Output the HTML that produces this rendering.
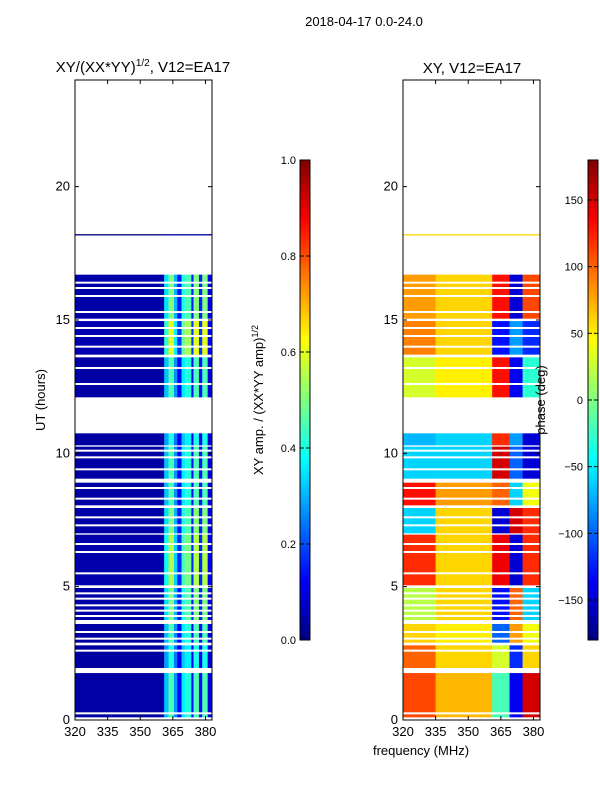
<!DOCTYPE html>
<html><head><meta charset="utf-8"><style>
body{margin:0;background:#fff;font-family:"Liberation Sans",sans-serif}
text{font-family:"Liberation Sans",sans-serif;fill:#000}
</style></head><body>
<svg id="fig" width="600" height="800" xmlns="http://www.w3.org/2000/svg">
<defs>
<linearGradient id="jet" x1="0" y1="1" x2="0" y2="0">
<stop offset="0" stop-color="#00007f"/><stop offset="0.125" stop-color="#0000ff"/>
<stop offset="0.375" stop-color="#00ffff"/><stop offset="0.625" stop-color="#ffff00"/>
<stop offset="0.875" stop-color="#ff0000"/><stop offset="1" stop-color="#7f0000"/>
</linearGradient>
</defs>
<text x="364" y="26" font-size="13" text-anchor="middle">2018-04-17 0.0-24.0</text>
<text x="143" y="72" font-size="15" text-anchor="middle">XY/(XX*YY)<tspan font-size="10" dy="-6">1/2</tspan><tspan dy="6">, V12=EA17</tspan></text>
<text x="472" y="73" font-size="15" text-anchor="middle">XY, V12=EA17</text>
<g id="left"></g>
<g id="right"></g>
<text x="45" y="400" font-size="13" text-anchor="middle" transform="rotate(-90 45 400)">UT (hours)</text>
<text x="421" y="755" font-size="13" text-anchor="middle">frequency (MHz)</text>
<rect x="300" y="160" width="10" height="480" fill="url(#jet)" stroke="#000" stroke-width="1"/>
<rect x="588" y="160" width="10" height="480" fill="url(#jet)" stroke="#000" stroke-width="1"/>
<text x="263" y="400" font-size="13" text-anchor="middle" transform="rotate(-90 263 400)">XY amp. / (XX*YY amp)<tspan font-size="9" dy="-5">1/2</tspan></text>
<text x="545" y="400" font-size="13" text-anchor="middle" transform="rotate(-90 545 400)">phase (deg)</text>
<g id="cb"></g>
</svg>
<script>
const bandStart=[0.1,1.95,2.9,3.75,5.05,7.0,8.05,9.05,10.3,12.1,13.7,15.05,18.17];
const bandEnd=[1.76,2.8,3.6,4.95,6.95,7.95,8.9,10.25,10.75,13.6,14.96,16.7,18.22];
const bandAmpScale=[0.9,0.8,0.9,1.0,1.1,1.0,0.9,0.9,0.8,0.9,1.2,1.0,0.1];
const freqEdges=[320,361,363,365.5,367,369,370.5,373.5,374.5,377,378.5,381,383];
const ampProf=[0.04,0.35,0.5,0.3,0.15,0.4,0.45,0.15,0.5,0.15,0.5,0.1];
const phaseEdges=[320,335,361,369,375,383];
const bandPhase=[[110,70,-20,-140,150],[100,60,30,-120,60],[60,50,-100,80,40],[20,60,-130,100,-60],[120,60,140,-150,120],[-60,60,-150,150,120],[130,80,100,-60,40],[-60,-60,150,-100,-150],[-70,-60,120,-80,-150],[30,50,130,-140,-30],[90,60,-130,-80,-120],[80,60,130,-150,110],[60,60,60,60,60]];
const gaps=[0.25,2.6,3.05,3.3,3.9,4.1,4.3,4.55,4.75,5.5,6.3,6.6,7.3,7.6,8.3,8.7,9.4,9.85,10.1,12.6,13.2,14.0,14.4,14.7,15.3,15.9,16.2,16.4];
const hourTicks=[0,5,10,15,20];
const freqTicks=[320,335,350,365,380];
const ampTicks=[0,0.2,0.4,0.6,0.8,1.0];
const phaseTicks=[-150,-100,-50,0,50,100,150];

const NS="http://www.w3.org/2000/svg";
function mk(p,t,a){const e=document.createElementNS(NS,t);for(const k in a)e.setAttribute(k,a[k]);p.appendChild(e);return e;}
const Y0=720,Y1=80;
const yS=h=>Y0-(Y0-Y1)*h/24;
function jet(v){v=Math.max(0,Math.min(1,v));
 const st=[[0,0,0,127],[0.125,0,0,255],[0.375,0,255,255],[0.625,255,255,0],[0.875,255,0,0],[1,127,0,0]];
 for(let i=1;i<st.length;i++)if(v<=st[i][0]){const a=st[i-1],b=st[i],t=(v-a[0])/(b[0]-a[0]);
  return `rgb(${Math.round(a[1]+t*(b[1]-a[1]))},${Math.round(a[2]+t*(b[2]-a[2]))},${Math.round(a[3]+t*(b[3]-a[3]))})`;}
 return 'rgb(127,0,0)';}
function panel(g,X0,X1,isPhase){
 const xS=f=>X0+(X1-X0)*(f-320)/63;
 for(let b=0;b<bandStart.length;b++){
  const yt=yS(bandEnd[b]),yb=yS(bandStart[b]);
  if(!isPhase){for(let c=0;c<ampProf.length;c++){
    const r=mk(g,'rect',{x:xS(freqEdges[c]),y:yt,width:xS(freqEdges[c+1])-xS(freqEdges[c])+0.3,height:yb-yt,fill:jet(ampProf[c]*bandAmpScale[b])});
    }}
  else{for(let c=0;c<bandPhase[b].length;c++){
    const r=mk(g,'rect',{x:xS(phaseEdges[c]),y:yt,width:xS(phaseEdges[c+1])-xS(phaseEdges[c])+0.3,height:yb-yt,fill:jet((bandPhase[b][c]+180)/360)});
    }}
 }
 for(const h of gaps){const r=mk(g,'rect',{x:X0,y:yS(h)-1,width:X1-X0,height:2,fill:'#fff'});
  }
 mk(g,'rect',{x:X0,y:Y1,width:X1-X0,height:Y0-Y1,fill:'none',stroke:'#000','stroke-width':1});
 for(const h of hourTicks){const y=yS(h);
  mk(g,'line',{x1:X0,x2:X0+4,y1:y,y2:y,stroke:'#000'});mk(g,'line',{x1:X1,x2:X1-4,y1:y,y2:y,stroke:'#000'});
  const t=mk(g,'text',{x:X0-5,y:y+4,'font-size':13,'text-anchor':'end'});t.textContent=h;
  }
 for(const f of freqTicks){const x=xS(f);
  mk(g,'line',{x1:x,x2:x,y1:Y0,y2:Y0-4,stroke:'#000'});mk(g,'line',{x1:x,x2:x,y1:Y1,y2:Y1+4,stroke:'#000'});
  const t=mk(g,'text',{x:x,y:Y0+16,'font-size':13,'text-anchor':'middle'});t.textContent=f;
  }
}
panel(document.getElementById('left'),75,212,false);
panel(document.getElementById('right'),403,540,true);
const cb=document.getElementById('cb');
for(const v of ampTicks){const y=640-480*v;
 mk(cb,'line',{x1:300,x2:304,y1:y,y2:y,stroke:'#000'});mk(cb,'line',{x1:306,x2:310,y1:y,y2:y,stroke:'#000'});
 const t=mk(cb,'text',{x:296,y:y+4,'font-size':11,'text-anchor':'end'});t.textContent=v.toFixed(1);
 }
for(const p of phaseTicks){const y=400-p*480/360;
 mk(cb,'line',{x1:588,x2:592,y1:y,y2:y,stroke:'#000'});mk(cb,'line',{x1:594,x2:598,y1:y,y2:y,stroke:'#000'});
 const t=mk(cb,'text',{x:583,y:y+4,'font-size':11,'text-anchor':'end'});t.textContent=p<0?'\u2212'+(-p):p;
 }
</script>
</body></html>
